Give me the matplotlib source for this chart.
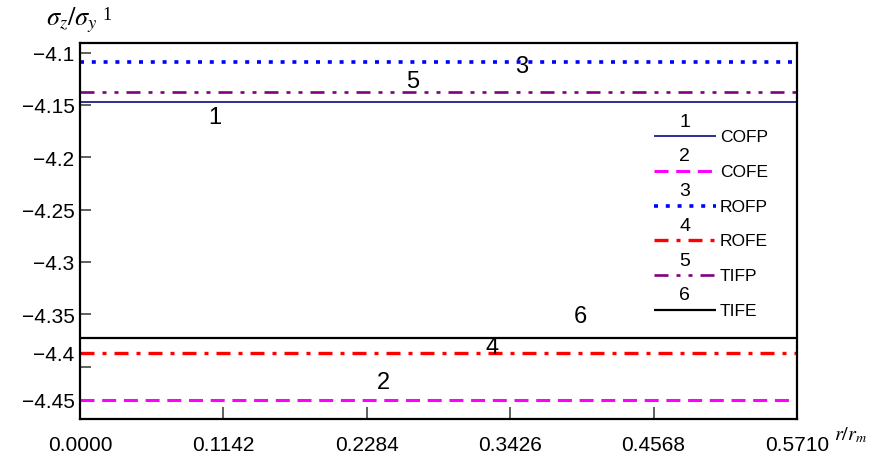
import matplotlib
matplotlib.use("Agg")
import matplotlib.pyplot as plt

plt.rcParams['font.family'] = ['Liberation Sans', 'DejaVu Sans']
plt.rcParams['mathtext.fontset'] = 'stix'

# radial span (r / r_m) and the constant axial stress of each case
r_span = [0.0, 0.5710]
x_ticks = [0.0, 0.1142, 0.2284, 0.3426, 0.4568, 0.5710]
names = ['COFP', 'COFE', 'ROFP', 'ROFE', 'TIFP', 'TIFE']
sigma_z = [-4.1473, -4.4317, -4.1092, -4.3868, -4.1372, -4.3729]
# where the curve numbers sit on the plot
num_x = [0.1075, 0.2413, 0.3520, 0.3281, 0.2652, 0.3982]
num_y = [-4.1623, -4.4152, -4.1136, -4.3818, -4.1280, -4.3522]

colors = ['#1c1c8c', '#ff00ff', '#0000ff', '#ff0000', '#800080', '#000000']
widths = [1.3, 2.2, 2.6, 2.4, 1.9, 1.6]
px = 0.72  # one pixel in points at dpi 100
dashes = [
    None,
    (0, (14 * px / 2.2, 7.7 * px / 2.2)),
    (0, (4 * px / 2.6, 7.8 * px / 2.6)),
    (0, (14 * px / 2.4, 8 * px / 2.4, 4 * px / 2.4, 8 * px / 2.4)),
    (0, (14 * px / 1.9, 8 * px / 1.9, 4 * px / 1.9, 8 * px / 1.9,
         4 * px / 1.9, 8 * px / 1.9)),
    None,
]

fig = plt.figure(figsize=(8.92, 4.61), dpi=100)
ax = fig.add_axes([80 / 892, 1 - 419 / 461, 717 / 892, 376 / 461])

for i in range(6):
    ls = '-' if dashes[i] is None else dashes[i]
    ax.plot(r_span, [sigma_z[i], sigma_z[i]], color=colors[i], lw=widths[i],
            linestyle=ls, label=names[i], solid_capstyle='butt',
            dash_capstyle='butt')
    ax.text(num_x[i], num_y[i], str(i + 1), fontsize=17, ha='center',
            va='center')

ax.set_xlim(0, 0.5710)
ax.set_ylim(-4.45, -4.0907)

# tick marks on a regular 0.05 grid; the two lowest labels sit by their lines
mark_ticks = [-4.1, -4.15, -4.2, -4.25, -4.3, -4.35, -4.4]
ax.set_yticks(mark_ticks)
ax.set_yticklabels([])
ax.tick_params(axis='y', direction='in', length=8, width=1.2, color='#444444')
label_ticks = [-4.1, -4.15, -4.2, -4.25, -4.3, -4.35, sigma_z[3], sigma_z[1]]
label_text = ['\u22124.1', '\u22124.15', '\u22124.2', '\u22124.25', '\u22124.3',
              '\u22124.35', '\u22124.4', '\u22124.45']
for yv, t in zip(label_ticks, label_text):
    ax.annotate(t, xy=(0, yv), xycoords=('axes fraction', 'data'),
                xytext=(-4, -2), textcoords='offset points', ha='right',
                va='center', fontsize=15)

ax.set_xticks(x_ticks)
ax.set_xticklabels(['%.4f' % v for v in x_ticks], fontsize=15)
ax.tick_params(axis='x', direction='in', length=9, width=1.2, color='#444444',
               pad=12)

for s in ax.spines.values():
    s.set_linewidth(1.6)

fig.text(46 / 892, 1 - 20 / 461, r'$\sigma_z/\sigma_y$', fontsize=19,
         ha='left', va='center')
fig.text(102 / 892, 1 - 16 / 461, '1', fontsize=13, ha='left', va='center',
         family='Liberation Serif')
fig.text(834 / 892, 1 - 435 / 461, r'$r/r_m$', fontsize=14.5, ha='left',
         va='center')

leg = ax.legend(loc='upper left', bbox_to_anchor=(654 / 892, 1 - 130 / 461),
                bbox_transform=fig.transFigure, frameon=False, fontsize=12.5,
                handlelength=3.55, handletextpad=0.25, labelspacing=1.13,
                borderpad=0, borderaxespad=0)

# curve numbers above each legend sample
fig.canvas.draw()
inv = fig.transFigure.inverted()
for i, h in enumerate(leg.get_lines()):
    bb = h.get_window_extent(fig.canvas.get_renderer())
    cx, cy = inv.transform(((bb.x0 + bb.x1) / 2, (bb.y0 + bb.y1) / 2))
    fig.text(cx, cy + 14 / 461, str(i + 1), fontsize=14, ha='center',
             va='center')

fig.savefig('out.png', dpi=100)
